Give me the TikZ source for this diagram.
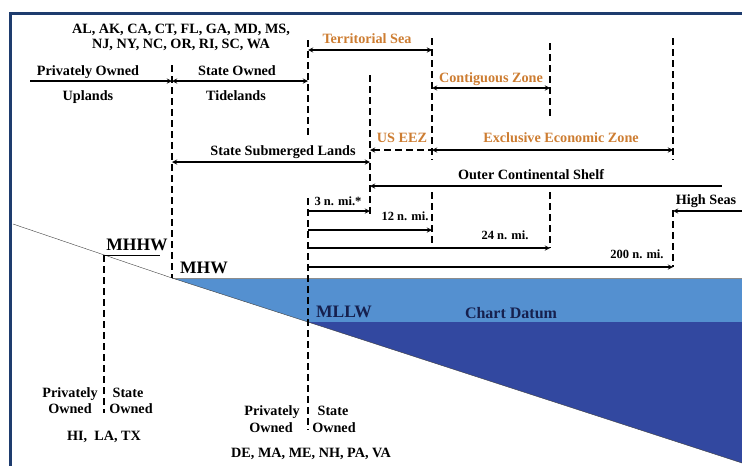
\documentclass[tikz,border=0pt]{standalone}
\usepackage{fontspec}
\setmainfont{Liberation Serif}
\definecolor{framebl}{RGB}{30,60,110}
\definecolor{shallow}{RGB}{84,144,208}
\definecolor{deep}{RGB}{50,72,160}
\definecolor{zoneor}{RGB}{205,125,50}
\definecolor{navy}{RGB}{22,32,78}
\begin{document}
\begin{tikzpicture}[x=1pt,y=-1pt,>=stealth,
    font=\bfseries\fontsize{14.2}{16}\selectfont,
    bound/.style={line width=1.4pt,dash pattern=on 7pt off 4pt},
    dim/.style={line width=1.3pt},
    zone/.style={text=zoneor},
    small/.style={font=\bfseries\fontsize{12.5}{14}\selectfont},
    datum/.style={font=\bfseries\fontsize{17.5}{20}\selectfont},
    every node/.style={anchor=base,inner sep=0pt}]
  \useasboundingbox (0,0) rectangle (742,466);
  % water and shore
  \fill[shallow] (172,278) -- (742,278) -- (742,322) -- (308,322) -- cycle;
  \fill[deep] (308,322) -- (742,322) -- (742,463) -- cycle;
  \draw[black!45,thin] (172,278) -- (742,278);
  \draw[black!75,thin] (13,224) -- (172,278) -- (308,322) -- (742,463);
  \draw[framebl,line width=3pt] (10,466) -- (10,13) -- (742,13);

  % boundary lines
  \draw[bound] (104,255) -- (104,413);
  \draw[bound] (172,65) -- (172,278);
  \draw[bound] (308,40) -- (308,138) (308,198) -- (308,430);
  \draw[bound] (370,75) -- (370,215);
  \draw[bound] (432,38) -- (432,160) (432,192) -- (432,248);
  \draw[bound] (550,43) -- (550,118) (550,192) -- (550,248);
  \draw[bound] (673,38) -- (673,160) (673,210) -- (673,267);
  \draw[thin] (104,255) -- (160,255);

  % extents
  \draw[dim,->] (30,81) -- (172,81);
  \draw[dim,<->] (172,81) -- (308,81);
  \draw[dim,<->] (308,50) -- (432,50);
  \draw[dim,<->] (432,88) -- (550,88);
  \draw[dim,<->] (432,150) -- (673,150);
  \draw[dim,<-,dash pattern=on 7pt off 4pt] (370,150) -- (432,150);
  \draw[dim,<->] (172,162) -- (370,162);
  \draw[dim,<-] (370,186) -- (722,186);
  \draw[dim,<-] (673,211) -- (742,211);
  \foreach \y/\x in {211/370,230/432,248/550,267/673}
    \draw[dim,->] (308,\y) -- (\x,\y);

  % labels
  \node (list1) at (181,33) {AL, AK, CA, CT, FL, GA, MD, MS,};
  \node (list2) at (181,48) {NJ, NY, NC, OR, RI, SC, WA};
  \node (priv) at (88,75) {Privately Owned};
  \node (upl) at (88,100) {Uplands};
  \node (stown) at (237,75) {State Owned};
  \node (tide) at (236,100) {Tidelands};
  \node[zone] (terr) at (367,43) {Territorial Sea};
  \node[zone] (contig) at (491,82) {Contiguous Zone};
  \node[zone] (useez) at (402,142) {US EEZ};
  \node[zone] (eez) at (561,142) {Exclusive Economic Zone};
  \node (ssl) at (283,155) {State Submerged Lands};
  \node (ocs) at (531,179) {Outer Continental Shelf};
  \node (high) at (706,204) {High Seas};
  \node[small] (three) at (338,205) {3 n. mi.*};
  \node[small] (twelve) at (405,220) {12 n. mi.};
  \node[small] (twfour) at (505,239) {24 n. mi.};
  \node[small] (twoh) at (637,258) {200 n. mi.};
  \node[datum] (mhhw) at (137,250) {MHHW};
  \node[datum] (mhw) at (204,273) {MHW};
  \node[datum,text=navy] (mllw) at (344,317) {MLLW};
  \node[font=\bfseries\fontsize{16}{18}\selectfont,text=navy] (chart) at (511,318) {Chart Datum};
  \node (lpriv) at (70,397) {Privately};
  \node (lpown) at (70,413) {Owned};
  \node (lstate) at (128,397) {State};
  \node (lsown) at (131,413) {Owned};
  \node (hi) at (104,440) {HI,~ LA, TX};
  \node (mpriv) at (272,415) {Privately};
  \node (mpown) at (271,432) {Owned};
  \node (mstate) at (333,415) {State};
  \node (msown) at (334,432) {Owned};
  \node (de) at (311,457) {DE, MA, ME, NH, PA, VA};
\end{tikzpicture}
\end{document}
